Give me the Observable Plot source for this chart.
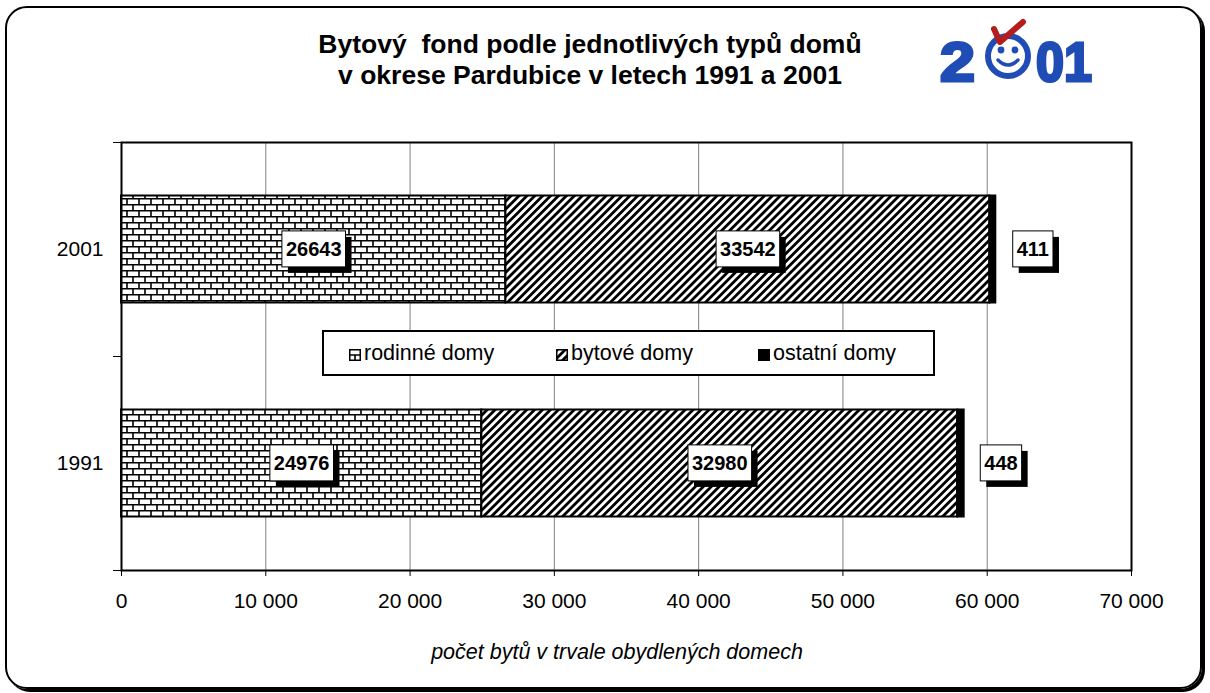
<!DOCTYPE html>
<html>
<head>
<meta charset="utf-8">
<script src="https://cdn.jsdelivr.net/npm/d3@7"></script>
<script src="https://cdn.jsdelivr.net/npm/@observablehq/plot@0.6"></script>
<style>
  html, body { margin: 0; padding: 0; background: #fff; }
  body { width: 1210px; height: 693px; position: relative; overflow: hidden; font-family: Arial, "Liberation Sans", sans-serif; }
  #frame { position: absolute; left: 5px; top: 6px; width: 1193px; height: 679px; border: 2px solid #000; border-radius: 22px; box-shadow: 3px 3px 0 #000; }
  #title { position: absolute; left: 240px; width: 700px; top: 29px; text-align: center; font-weight: bold; font-size: 26.5px; line-height: 31px; color: #000; white-space: pre; }
  #chart { position: absolute; left: 0; top: 0; }
  #legend { position: absolute; left: 322px; top: 330px; width: 609px; height: 42px; border: 2px solid #000; background: #fff; font-size: 21.5px; }
  .item { position: absolute; top: 0; line-height: 42px; white-space: nowrap; }
  .item svg { vertical-align: -1px; margin-right: 3px; }
  #xtitle { position: absolute; left: 217px; width: 800px; top: 639px; text-align: center; font-style: italic; font-size: 21.5px; line-height: 26px; }
  #logo { position: absolute; left: 930px; top: 12px; }
</style>
</head>
<body>
<svg width="0" height="0" style="position:absolute">
  <defs>
    <pattern id="brick" patternUnits="userSpaceOnUse" width="12" height="12">
      <rect width="12" height="12" fill="#fff"/>
      <path d="M0 0.8H12M0 6.8H12M1 0V6.8M7 6.8V12" stroke="#000" stroke-width="1.6" fill="none"/>
    </pattern>
    <pattern id="diag" patternUnits="userSpaceOnUse" width="5.6" height="5.6" patternTransform="rotate(45)">
      <rect width="5.6" height="5.6" fill="#fff"/>
      <rect width="2.8" height="5.6" fill="#000"/>
    </pattern>
    <pattern id="brickS" patternUnits="userSpaceOnUse" width="12" height="12">
      <rect width="12" height="12" fill="#fff"/>
      <path d="M0 6H12M6 6V12" stroke="#000" stroke-width="1.6" fill="none"/>
    </pattern>
  </defs>
</svg>
<div id="frame"></div>
<div id="title">Bytový  fond podle jednotlivých typů domů
v okrese Pardubice v letech 1991 a 2001</div>
<svg id="logo" width="175" height="80" viewBox="0 0 175 80">
  <text x="10" y="69" font-family="Liberation Sans, Arial" font-weight="bold" font-size="56" fill="#1f4cb5" stroke="#1f4cb5" stroke-width="3" textLength="35" lengthAdjust="spacingAndGlyphs">2</text>
  <circle cx="78" cy="44" r="20" fill="#fff" stroke="#1f4cb5" stroke-width="6"/>
  <circle cx="71" cy="38" r="3.4" fill="#1f4cb5"/>
  <circle cx="85" cy="38" r="3.4" fill="#1f4cb5"/>
  <path d="M68 48 Q78 58 88 48" stroke="#1f4cb5" stroke-width="3.5" fill="none" stroke-linecap="round"/>
  <text x="106" y="69" font-family="Liberation Sans, Arial" font-weight="bold" font-size="56" fill="#1f4cb5" stroke="#1f4cb5" stroke-width="3" textLength="56" lengthAdjust="spacingAndGlyphs">01</text>
  <path d="M64 17 L70 30 L93 10" stroke="#b51c1c" stroke-width="6" fill="none" stroke-linecap="round" stroke-linejoin="round"/>
</svg>
<div id="chart"></div>
<div id="legend">
  <span class="item" style="left:25px"><svg width="12" height="12"><rect x="0.75" y="0.75" width="10.5" height="10.5" fill="url(#brickS)" stroke="#000" stroke-width="1.5"/></svg>rodinné domy</span>
  <span class="item" style="left:232px"><svg width="12" height="12"><rect x="0.75" y="0.75" width="10.5" height="10.5" fill="url(#diag)" stroke="#000" stroke-width="1.5"/></svg>bytové domy</span>
  <span class="item" style="left:434px"><svg width="12" height="12"><rect x="0" y="0" width="12" height="12" fill="#000"/></svg>ostatní domy</span>
</div>
<div id="xtitle">počet bytů v trvale obydlených domech</div>
<script>
// ---- data ----
const years = ["1991", "2001"];
const types = ["rodinné domy", "bytové domy", "ostatní domy"];
const values1991 = [24976, 32980, 448];
const values2001 = [26643, 33542, 411];
const xTicks = [0, 10000, 20000, 30000, 40000, 50000, 60000, 70000];

// ---- build stacked segments ----
const fills = {"rodinné domy": "url(#brick)", "bytové domy": "url(#diag)", "ostatní domy": "#000"};
const series = {"1991": values1991, "2001": values2001};
const segments = [];
years.forEach((yr, i) => {
  let acc = 0;
  series[yr].forEach((v, j) => {
    segments.push({year: yr, type: types[j], value: v, x1: acc, x2: acc + v, yc: i + 0.5});
    acc += v;
  });
});
const inner = segments.filter(d => d.type !== "ostatní domy");
const outer = segments.filter(d => d.type === "ostatní domy");

const fmt = d3.formatLocale({decimal: ",", thousands: " ", grouping: [3], currency: ["", ""]}).format(",");
const labelOpts = {x: d => (d.x1 + d.x2) / 2, y: "yc", text: d => String(d.value), fontWeight: "bold", fontSize: 20, fill: "#000"};

const chart = Plot.plot({
  width: 1210,
  height: 693,
  marginLeft: 121,
  marginRight: 79,
  marginTop: 142,
  marginBottom: 123,
  style: {fontFamily: "Arial, 'Liberation Sans', sans-serif", fontSize: "21px", background: "transparent", color: "#000"},
  x: {domain: [0, 70000]},
  y: {domain: [0, 2]},
  marks: [
    Plot.ruleX(xTicks.slice(1, -1), {stroke: "#808080", strokeWidth: 1}),
    Plot.rect(segments, {x1: "x1", x2: "x2", y1: d => d.yc - 0.25, y2: d => d.yc + 0.25, fill: d => fills[d.type], stroke: "#000", strokeWidth: 2}),
    Plot.frame({stroke: "#000", strokeWidth: 2}),
    Plot.axisX(xTicks, {tickSize: 6, tickPadding: 17, tickFormat: fmt, label: null, fontSize: 21}),
    Plot.axisY([0, 1, 2], {tickSize: 8, tickFormat: () => "", label: null}),
    Plot.axisY([0.5, 1.5], {tickSize: 0, tickPadding: 18, tickFormat: d => years[Math.floor(d)], label: null, fontSize: 21}),
    Plot.text(inner, labelOpts),
    Plot.text(outer, {...labelOpts, dx: 40})
  ]
});
document.getElementById("chart").appendChild(chart);

// label boxes with drop shadows (Excel-style data label boxes)
const ns = "http://www.w3.org/2000/svg";
chart.querySelectorAll('g[aria-label="text"]').forEach(labelGroup => {
  labelGroup.querySelectorAll("text").forEach(t => {
    const b = t.getBBox();
    const tr = t.getAttribute("transform");
    const mk = (dx, dy, fill, stroke) => {
      const r = document.createElementNS(ns, "rect");
      r.setAttribute("x", b.x - 4 + dx);
      r.setAttribute("y", b.y - 7 + dy);
      r.setAttribute("width", b.width + 8);
      r.setAttribute("height", b.height + 14);
      r.setAttribute("fill", fill);
      if (stroke) { r.setAttribute("stroke", stroke); r.setAttribute("stroke-width", 1); }
      if (tr) r.setAttribute("transform", tr);
      return r;
    };
    labelGroup.insertBefore(mk(6, 6, "#000"), t);
    labelGroup.insertBefore(mk(0, 0, "#fff", "#000"), t);
  });
});
</script>
</body>
</html>
